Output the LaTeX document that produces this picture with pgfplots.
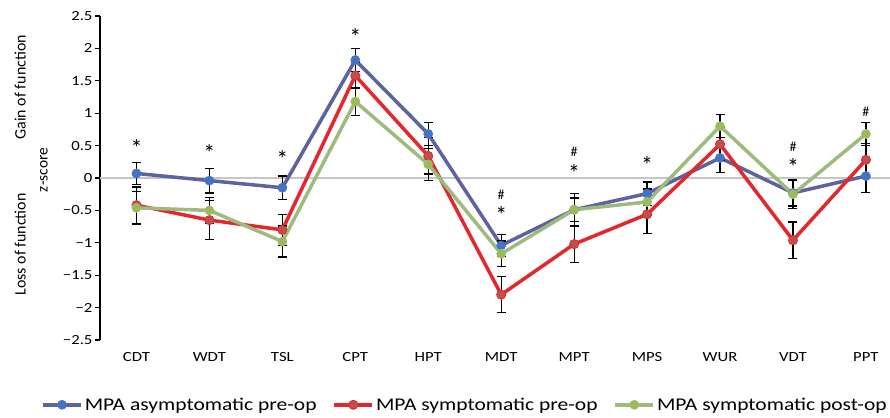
\documentclass[border=0pt]{standalone}
\usepackage{fontspec}
\setmainfont{Carlito}[FakeStretch=1.2]
\newfontfamily\vfont{Carlito}
\usepackage{pgfplots}
\pgfplotsset{compat=1.18}
\definecolor{bline}{RGB}{94,98,158}
\definecolor{bmark}{RGB}{70,114,196}
\definecolor{rline}{RGB}{228,38,45}
\definecolor{rmark}{RGB}{192,80,77}
\definecolor{gline}{RGB}{158,187,126}
\definecolor{gmark}{RGB}{155,187,89}
\begin{document}
\begin{tikzpicture}
\begin{axis}[
  name=ax, scale only axis, width=790bp, height=324bp,
  xmin=-0.5, xmax=10.33, ymin=-2.5, ymax=2.5,
  separate axis lines,
  axis x line*=bottom, axis y line*=left,
  x axis line style={draw=none},
  y axis line style={black, line width=1.2bp, -},
  xtick={0,1,2,3,4,5,6,7,8,9,10},
  xticklabels={CDT,WDT,TSL,CPT,HPT,MDT,MPT,MPS,WUR,VDT,PPT},
  x tick style={draw=none},
  xticklabel style={font=\fontsize{14}{16}\selectfont, yshift=-4bp},
  ytick={-2.5,-2,-1.5,-1,-0.5,0,0.5,1,1.5,2,2.5},
  yticklabels={−2.5,−2,−1.5,−1,−0.5,0,0.5,1,1.5,2,2.5},
  yticklabel style={font=\fontsize{14}{16}\selectfont, xshift=1bp},
  y tick style={black, line width=1.2bp},
  tick align=outside, major tick length=5bp,
  extra y ticks={0}, extra y tick labels={},
  extra y tick style={grid=major, major grid style={gray!45, line width=1.3bp}, tick style={draw=none}},
  clip=false,
  legend columns=3,
  legend style={at={(0.462,-0.2)}, anchor=center, draw=none, fill=none,
    font=\fontsize{18}{20}\selectfont,
    /tikz/every even column/.append style={column sep=14bp}},
  legend image code/.code={\draw[mark repeat=2,mark phase=2,#1] plot coordinates {(0bp,0bp)(19bp,0bp)(38bp,0bp)};},
  every axis plot/.append style={
    error bars/y dir=both, error bars/y explicit,
    error bars/error bar style={black, line width=1.3bp},
    error bars/error mark options={black, rotate=90, mark size=4.5bp, line width=1.3bp}},
]
\addplot[bline, line width=3.5bp, mark=*, mark size=4.6bp, mark options={fill=bmark, draw=bmark, line width=0.5bp}]
coordinates {
(0,0.07) +- (0,0.17)
(1,-0.04) +- (0,0.19)
(2,-0.15) +- (0,0.18)
(3,1.82) +- (0,0.18)
(4,0.68) +- (0,0.18)
(5,-1.04) +- (0,0.17)
(6,-0.49) +- (0,0.18)
(7,-0.24) +- (0,0.18)
(8,0.31) +- (0,0.22)
(9,-0.23) +- (0,0.20)
(10,0.03) +- (0,0.25)
};
\addlegendentry{MPA asymptomatic pre-op}
\addplot[rline, line width=3.5bp, mark=*, mark size=4.6bp, mark options={fill=rmark, draw=rline, line width=0.8bp}]
coordinates {
(0,-0.42) +- (0,0.28)
(1,-0.65) +- (0,0.30)
(2,-0.80) +- (0,0.24)
(3,1.58) +- (0,0.20)
(4,0.34) +- (0,0.28)
(5,-1.80) +- (0,0.28)
(6,-1.02) +- (0,0.28)
(7,-0.56) +- (0,0.30)
(8,0.52) +- (0,0.25)
(9,-0.96) +- (0,0.28)
(10,0.28) +- (0,0.25)
};
\addlegendentry{MPA symptomatic pre-op}
\addplot[gline, line width=3.5bp, mark=*, mark size=4.6bp, mark options={fill=gmark, draw=gline, line width=0.5bp}]
coordinates {
(0,-0.46) +- (0,0.25)
(1,-0.50) +- (0,0.20)
(2,-0.98) +- (0,0.24)
(3,1.18) +- (0,0.22)
(4,0.21) +- (0,0.25)
(5,-1.17) +- (0,0.20)
(6,-0.49) +- (0,0.25)
(7,-0.37) +- (0,0.20)
(8,0.80) +- (0,0.18)
(9,-0.25) +- (0,0.22)
(10,0.68) +- (0,0.18)
};
\addlegendentry{MPA symptomatic post-op}
% significance markers
\begin{scope}[every node/.style={font=\vfont\fontsize{24}{24}\selectfont, inner sep=0pt}]
\node at (axis cs:0,0.47) {*};
\node at (axis cs:1,0.39) {*};
\node at (axis cs:2,0.30) {*};
\node at (axis cs:3,2.18) {*};
\node at (axis cs:5,-0.57) {*};
\node at (axis cs:6,0.08) {*};
\node at (axis cs:7,0.20) {*};
\node at (axis cs:9,0.17) {*};
\end{scope}
\begin{scope}[every node/.style={font=\vfont\fontsize{14}{14}\selectfont, inner sep=0pt}]
\node at (axis cs:5,-0.26) {\#};
\node at (axis cs:6,0.40) {\#};
\node at (axis cs:9,0.48) {\#};
\node at (axis cs:10,1.02) {\#};
\end{scope}
\node[rotate=90, font=\vfont\fontsize{15.5}{17}\selectfont] at (axis description cs:-0.071,0.525) {z-score};
\node[rotate=90, font=\vfont\fontsize{16}{17}\selectfont] at (axis description cs:-0.101,0.78) {Gain of function};
\node[rotate=90, font=\vfont\fontsize{16}{17}\selectfont] at (axis description cs:-0.101,0.295) {Loss of function};
\end{axis}
\pgfresetboundingbox
\path (ax.south west) ++(-100bp,-78bp) rectangle ++(890bp,418bp);
\end{tikzpicture}
\end{document}
